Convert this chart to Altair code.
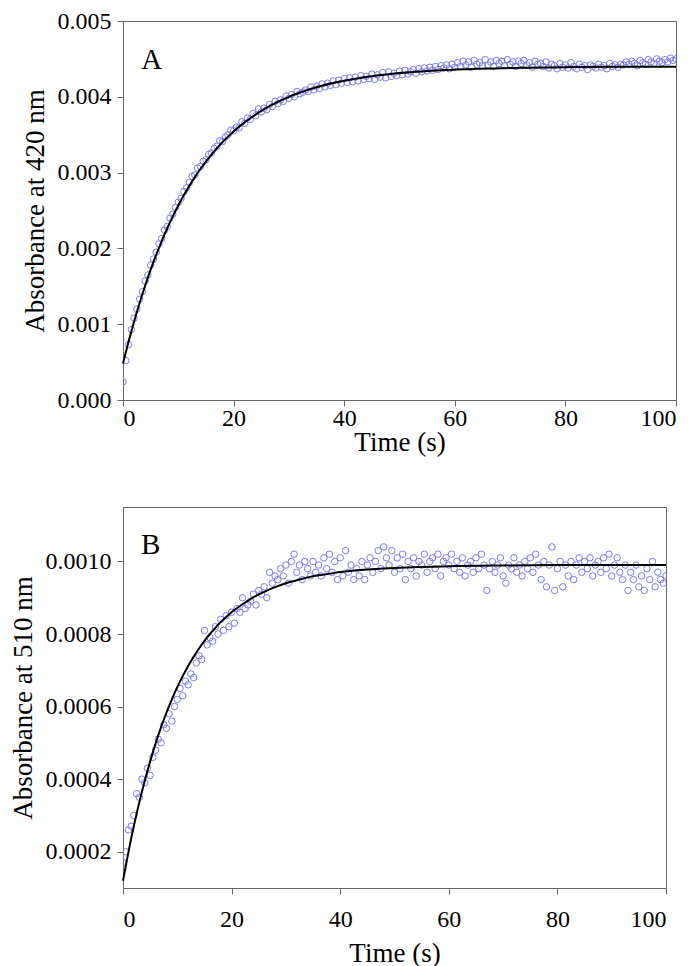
import altair as alt
import pandas as pd

# ---------------- data (absorbance values in units of 1e-6) ----------------
TIME_STEP = 0.5
A_obs = [
    240, 520, 730, 930, 1080, 1200, 1330, 1430, 1570, 1650,
    1780, 1860, 1950, 2060, 2130, 2240, 2290, 2400, 2450, 2540,
    2610, 2660, 2750, 2800, 2870, 2950, 2970, 3060, 3080, 3150,
    3170, 3240, 3260, 3320, 3350, 3420, 3410, 3470, 3500, 3560,
    3550, 3600, 3590, 3670, 3650, 3720, 3700, 3780, 3750, 3840,
    3800, 3850, 3830, 3900, 3870, 3940, 3910, 3960, 3940, 4010,
    3980, 4030, 4000, 4070, 4040, 4060, 4090, 4070, 4130, 4090,
    4140, 4110, 4170, 4130, 4180, 4150, 4210, 4160, 4220, 4180,
    4240, 4190, 4250, 4200, 4260, 4210, 4280, 4230, 4270, 4240,
    4300, 4230, 4290, 4260, 4320, 4250, 4330, 4270, 4310, 4280,
    4340, 4290, 4350, 4300, 4330, 4360, 4310, 4370, 4330, 4380,
    4340, 4390, 4350, 4400, 4360, 4410, 4380, 4420, 4370, 4430,
    4390,
    4450, 4400, 4470, 4420, 4460, 4390, 4480, 4430, 4450, 4410,
    4490, 4420, 4460, 4400, 4480, 4440, 4470, 4410, 4490, 4430,
    4460, 4400, 4470, 4440, 4480, 4420, 4450, 4390, 4470, 4430,
    4440, 4400, 4460, 4380, 4430, 4410, 4370, 4440, 4390, 4420,
    4380, 4450, 4400, 4370, 4430, 4390, 4410, 4360, 4420, 4400,
    4380, 4430, 4390, 4410, 4370, 4440, 4400, 4420, 4390, 4430,
    4420, 4460, 4430, 4470, 4440, 4410, 4480, 4450, 4430, 4490,
    4460, 4440, 4500, 4470, 4450, 4490, 4460, 4510, 4480, 4500,
]
B_obs = [
    170, 200, 260, 270, 300, 360, 350, 400, 390, 430,
    410, 460, 480, 510, 500, 550, 540, 580, 560, 600,
    620, 650, 630, 670, 660, 690, 680, 720, 740, 730,
    810, 770, 790, 780, 820, 800, 840, 810, 850, 820,
    860, 830, 870, 860, 900, 870, 880, 890, 910, 880,
    920, 910, 930, 900, 970, 940, 960, 950, 980, 960,
    990, 940, 1000, 1020, 970, 990, 950, 1000, 980, 960,
    1000, 970, 990, 960, 1010, 980, 1020, 970, 1000, 950,
    1010, 960, 1030, 970, 990, 950, 980, 960, 1000, 950,
    990, 1010, 970, 1000, 1030, 980, 1040, 1010, 990, 1030,
    970, 1010, 980, 1020, 950, 1000, 980, 1010, 960, 1000,
    990, 1020, 970, 1000, 1010, 980, 1020, 960, 1000, 1010,
    990, 1020, 980, 1000, 970, 1010, 960, 990, 1000, 970,
    1010, 980, 1020, 990, 920, 980, 1000, 970, 990, 1010,
    960, 940, 990, 980, 1010, 970, 990, 960, 1000, 980,
    1010, 970, 1020, 990, 950, 1000, 930, 990, 1040, 920,
    980, 1000, 930, 990, 960, 1000, 950, 990, 1010, 970,
    1000, 980, 1010, 960, 990, 1000, 970, 1010, 980, 1020,
    960, 990, 1010, 970, 950, 990, 920, 970, 950, 990,
    930, 960, 920, 980, 950, 1000, 930, 970, 950, 940,
    960,
]
A_fit_t = [0, 0.5, 1, 1.5, 2, 3, 4, 5, 6, 7, 8, 9, 10, 11, 12, 13, 14, 15, 16, 17,
           18, 19, 20, 22, 24, 26, 28, 30, 32, 34, 36, 38, 40, 44, 48, 52, 56, 60,
           70, 80, 90, 100]
A_fit_v = [480, 626, 767, 902, 1033, 1279, 1507, 1719, 1915, 2097, 2266, 2422, 2567,
           2701, 2825, 2940, 3047, 3146, 3238, 3323, 3402, 3475, 3543, 3664, 3767,
           3857, 3933, 3999, 4056, 4104, 4146, 4182, 4212, 4262, 4298, 4324, 4345,
           4359, 4381, 4391, 4396, 4398]
B_fit_t = [0, 0.5, 1, 1.5, 2, 3, 4, 5, 6, 7, 8, 9, 10, 11, 12, 13, 14, 15, 16, 17,
           18, 19, 20, 22, 24, 26, 28, 30, 32, 34, 36, 38, 40, 45, 50, 60, 70, 80,
           90, 100]
B_fit_v = [120, 160, 199, 236, 271, 336, 395, 449, 498, 543, 583, 620, 654, 684, 712,
           737, 760, 781, 800, 817, 833, 847, 860, 882, 901, 916, 929, 940, 948, 956,
           962, 966, 971, 978, 982, 987, 989, 990, 990, 990]

A_yticks = [0.000, 0.001, 0.002, 0.003, 0.004, 0.005]
B_yticks = [0.0002, 0.0004, 0.0006, 0.0008, 0.0010]
x_ticks = [0, 20, 40, 60, 80, 100]

SCALE = 1e-6
dfA = pd.DataFrame({"t": [i * TIME_STEP for i in range(len(A_obs))],
                    "a": [v * SCALE for v in A_obs]})
dfB = pd.DataFrame({"t": [i * TIME_STEP for i in range(len(B_obs))],
                    "a": [v * SCALE for v in B_obs]})
fitA = pd.DataFrame({"t": A_fit_t, "a": [v * SCALE for v in A_fit_v]})
fitB = pd.DataFrame({"t": B_fit_t, "a": [v * SCALE for v in B_fit_v]})
labA = pd.DataFrame({"t": [3.3], "a": [0.00437], "txt": ["A"]})
labB = pd.DataFrame({"t": [3.3], "a": [0.00102], "txt": ["B"]})

FONT = "Liberation Serif"
PT_COLOR = "#7b7bef"


def panel(df, fit, lab, ydomain, yticks, yfmt, ytitle, w, h, xlabpad, xtitlepad):
    x = alt.X("t:Q", scale=alt.Scale(domain=[0, 100], nice=False),
              axis=alt.Axis(values=x_ticks, title="Time (s)", format="d",
                            labelPadding=xlabpad, titlePadding=xtitlepad))
    y = alt.Y("a:Q", scale=alt.Scale(domain=ydomain, nice=False, zero=False),
              axis=alt.Axis(values=yticks, format=yfmt, title=ytitle))
    pts = alt.Chart(df).mark_point(shape="circle", filled=False, color=PT_COLOR,
                                   opacity=1, strokeWidth=1, size=42,
                                   clip=True).encode(x=x, y=y)
    line = alt.Chart(fit).mark_line(color="black", strokeWidth=2,
                                    interpolate="monotone").encode(x="t:Q", y="a:Q")
    txt = alt.Chart(lab).mark_text(font=FONT, fontSize=29, align="left",
                                   baseline="alphabetic", color="black").encode(
        x="t:Q", y="a:Q", text="txt:N")
    return alt.layer(pts, line, txt).properties(width=w, height=h)


pA = panel(dfA, fitA, labA, [0, 0.005], A_yticks, ".3f", "Absorbance at 420 nm",
           553, 379, 0, -1)
pB = panel(dfB, fitB, labB, [0.0001, 0.00115], B_yticks, ".4f", "Absorbance at 510 nm",
           543, 381, 13, 9)

chart = alt.vconcat(pA, pB, spacing=50).properties(
    padding={"left": 0, "top": 0, "right": 0, "bottom": 0}
).configure_view(stroke="#666666", strokeWidth=1).configure_axis(
    labelFont=FONT, titleFont=FONT, labelFontSize=24, titleFontSize=27,
    titleFontWeight="normal", labelColor="black", titleColor="black",
    domainColor="#666666", tickColor="#666666", tickSize=6, grid=False
).configure_axisY(labelPadding=6, titlePadding=8)

chart.save("out.html", embed_options={"renderer": "svg", "actions": False})
